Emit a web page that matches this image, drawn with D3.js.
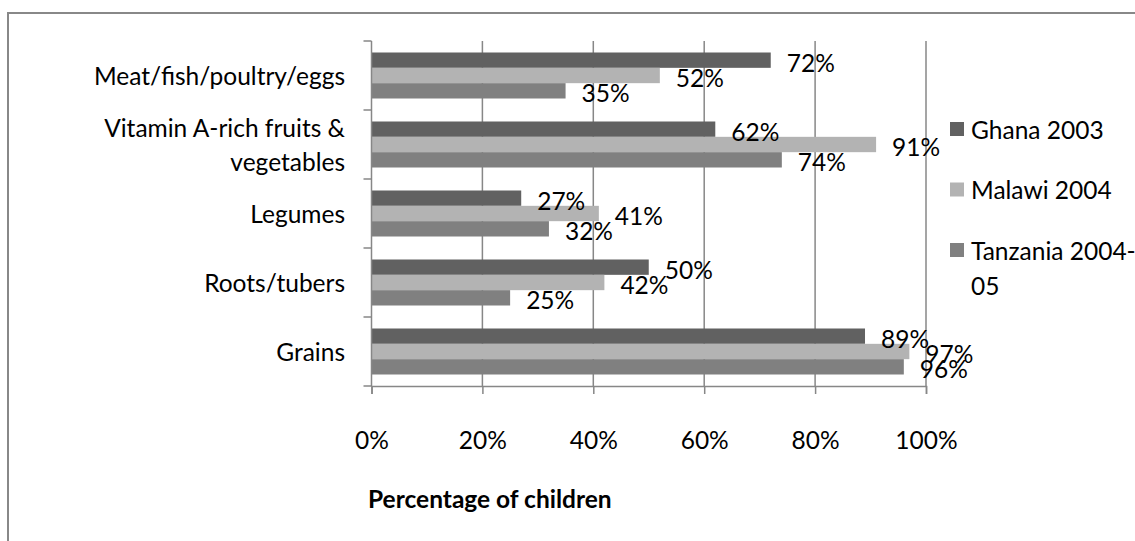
<!DOCTYPE html>
<html>
<head>
<meta charset="utf-8">
<script src="https://cdn.jsdelivr.net/npm/d3@7"></script>
<style>
  html, body { margin: 0; padding: 0; background: #ffffff; }
  svg { display: block; }
  text { font-family: Lato, "Open Sans", "Noto Sans", sans-serif; fill: #000; }
</style>
</head>
<body>
<svg id="chart" width="1135" height="541"></svg>
<script>
// Food groups, listed top to bottom as drawn
const categories = [
  "Meat/fish/poultry/eggs",
  "Vitamin A-rich fruits & vegetables",
  "Legumes",
  "Roots/tubers",
  "Grains"
];
// Category labels split onto lines
const categoryLines = [
  ["Meat/fish/poultry/eggs"],
  ["Vitamin A-rich fruits &", "vegetables"],
  ["Legumes"],
  ["Roots/tubers"],
  ["Grains"]
];
const seriesNames = ["Ghana 2003", "Malawi 2004", "Tanzania 2004-05"];
const legendLines = [["Ghana 2003"], ["Malawi 2004"], ["Tanzania 2004-", "05"]];
const seriesColors = ["#616161", "#b3b3b3", "#808080"];

// Percentage of children eating each food group, per survey
const ghana    = [72, 62, 27, 50, 89];
const malawi   = [52, 91, 41, 42, 97];
const tanzania = [35, 74, 32, 25, 96];
const seriesValues = [ghana, malawi, tanzania];

const xTicks = [0, 20, 40, 60, 80, 100];
const xTitle = "Percentage of children";

const svg = d3.select("#chart");
const FONT = 24.5;
const gridColor = "#878787";

// Outer frame of the chart area
svg.append("rect")
  .attr("x", 8).attr("y", 13)
  .attr("width", 1135).attr("height", 600)
  .attr("fill", "none")
  .attr("stroke", "#888")
  .attr("stroke-width", 2);

const x = d3.scaleLinear().domain([0, 100]).range([371.5, 926]);
const y = d3.scaleBand().domain(categories).range([41, 386]).padding(0);
const yInner = d3.scaleBand().domain(seriesNames)
  .range([0, y.bandwidth()]).paddingInner(0).paddingOuter(0.75);

// Vertical gridlines
svg.append("g").selectAll("line")
  .data(xTicks.filter(t => t > 0))
  .join("line")
  .attr("x1", d => x(d)).attr("x2", d => x(d))
  .attr("y1", 41).attr("y2", 386)
  .attr("stroke", gridColor).attr("stroke-width", 1.5);

// Bars
const rows = categories.map((c, i) => ({
  category: c,
  values: seriesNames.map((s, j) => ({ series: s, idx: j, value: seriesValues[j][i] }))
}));

const groups = svg.append("g").selectAll("g")
  .data(rows)
  .join("g")
  .attr("transform", d => `translate(0,${y(d.category)})`);

groups.selectAll("rect")
  .data(d => d.values)
  .join("rect")
  .attr("x", x(0))
  .attr("y", d => yInner(d.series))
  .attr("width", d => x(d.value) - x(0))
  .attr("height", yInner.bandwidth())
  .attr("fill", d => seriesColors[d.idx]);

// Value labels just past each bar end
groups.selectAll("text")
  .data(d => d.values)
  .join("text")
  .attr("x", d => x(d.value) + 16)
  .attr("y", d => yInner(d.series) + yInner.bandwidth() / 2 + 2)
  .attr("dominant-baseline", "central")
  .attr("font-size", FONT)
  .text(d => d.value + "%");

// Y axis: line with outward ticks at category boundaries
const yAxis = svg.append("g");
yAxis.append("line")
  .attr("x1", x(0)).attr("x2", x(0))
  .attr("y1", 41).attr("y2", 386)
  .attr("stroke", gridColor).attr("stroke-width", 1.5);
const boundaries = categories.map(c => y(c)).concat([y.range()[1]]);
yAxis.selectAll("line.tick")
  .data(boundaries)
  .join("line")
  .attr("class", "tick")
  .attr("x1", x(0) - 8).attr("x2", x(0))
  .attr("y1", d => d).attr("y2", d => d)
  .attr("stroke", gridColor).attr("stroke-width", 1.5);

// Category labels
const catLabels = svg.append("g").selectAll("text")
  .data(categories.map((c, i) => ({ c, lines: categoryLines[i] })))
  .join("text")
  .attr("text-anchor", "end")
  .attr("font-size", FONT);
catLabels.each(function(d) {
  const t = d3.select(this);
  const lh = 34;
  const cy = y(d.c) + y.bandwidth() / 2;
  const y0 = cy - (d.lines.length - 1) * lh / 2;
  d.lines.forEach((ln, k) => {
    t.append("tspan")
      .attr("x", 345)
      .attr("y", y0 + k * lh)
      .attr("dominant-baseline", "central")
      .text(ln);
  });
});

// X axis
const xAxis = d3.axisBottom(x)
  .tickValues(xTicks)
  .tickSize(8)
  .tickPadding(38)
  .tickFormat(d => d + "%");
const gx = svg.append("g")
  .attr("transform", "translate(0,386)")
  .call(xAxis);
gx.select(".domain").attr("stroke", gridColor).attr("stroke-width", 1.5);
gx.selectAll(".tick line").attr("stroke", gridColor).attr("stroke-width", 1.5);
gx.selectAll(".tick text")
  .attr("font-size", FONT)
  .attr("font-family", "Lato, 'Open Sans', sans-serif")
  .attr("fill", "#000");

// Axis title
svg.append("text")
  .attr("x", 368)
  .attr("y", 498)
  .attr("dominant-baseline", "central")
  .attr("font-size", FONT)
  .attr("font-weight", "bold")
  .text(xTitle);

// Legend
const legend = svg.append("g").selectAll("g")
  .data(seriesNames.map((s, i) => ({ s, i, lines: legendLines[i] })))
  .join("g")
  .attr("transform", d => `translate(950,${129 + d.i * 60.5})`);
legend.append("rect")
  .attr("x", 0).attr("y", -7)
  .attr("width", 14).attr("height", 14)
  .attr("fill", d => seriesColors[d.i]);
legend.append("text")
  .attr("font-size", FONT)
  .each(function(d) {
    const t = d3.select(this);
    d.lines.forEach((ln, k) => {
      t.append("tspan")
        .attr("x", 21)
        .attr("y", k * 35)
        .attr("dominant-baseline", "central")
        .text(ln);
    });
  });
</script>
</body>
</html>
